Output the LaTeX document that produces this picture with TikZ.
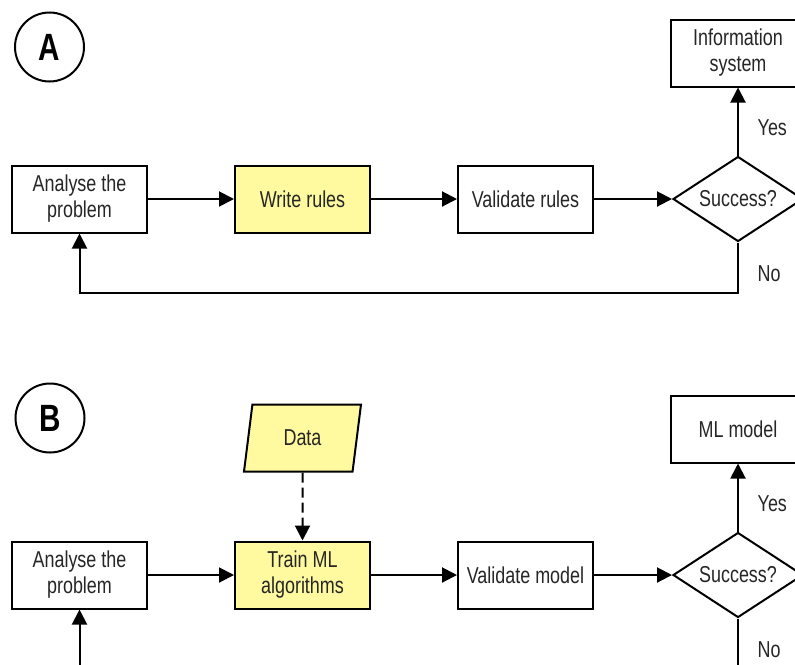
\documentclass[tikz,border=0pt]{standalone}
\usepackage{fontspec}
\newfontfamily\flowfont{Liberation Sans}[FakeStretch=0.78]
\usepackage{tikz}
\usetikzlibrary{shapes,arrows.meta,positioning}
\definecolor{hlyellow}{RGB}{255, 250, 160}
\tikzstyle{proc} = [rectangle, draw=black, line width=1pt, fill=white, text=black!85, text centered, align=center, font=\flowfont\fontsize{11.5}{13}\selectfont, minimum width=67.5pt, minimum height=33.5pt, inner sep=2pt]
\tikzstyle{hlproc} = [proc, fill=hlyellow]
\tikzstyle{decision} = [diamond, draw=black, line width=1pt, fill=white, text=black!85, aspect=1.53, inner sep=0pt, font=\flowfont\fontsize{11.5}{13}\selectfont, minimum width=65pt, minimum height=42.5pt]
\tikzstyle{io} = [trapezium, trapezium left angle=74, trapezium right angle=106, trapezium stretches body, draw=black, line width=1pt, fill=hlyellow, text=black!85, font=\flowfont\fontsize{11.5}{13}\selectfont, minimum width=58.5pt, minimum height=33.5pt]
\tikzstyle{tag} = [circle, draw=black, line width=1pt, text=black, font=\flowfont\bfseries\fontsize{19}{22}\selectfont, minimum size=34.5pt, inner sep=0pt]
\tikzstyle{textonly} = [draw=none, fill=none, text=black!85, font=\flowfont\fontsize{11.5}{13}\selectfont]
\tikzstyle{tedge} = [draw, line width=1pt, -{Triangle[length=7.5pt,width=7.5pt]}]
\tikzstyle{dedge} = [tedge, dash pattern=on 5pt off 2.5pt]

\begin{document}
\begin{tikzpicture}[auto]

\clip (0,0) rectangle (397.5pt,-332pt);

% rules approach =============================
\node[tag] (tagA) at (24.75pt,-23.5pt) {A};
\node[proc] (anaA) at (39.75pt,-99.5pt) {Analyse the\\problem};
\node[hlproc, right=43pt of anaA] (writeA) {Write rules};
\node[proc, right=43pt of writeA] (valA) {Validate rules};
\node[decision, right=39pt of valA] (succA) {Success?};
\node[proc, above=34pt of succA] (infoA) {Information\\system};

% edges rules
\path[tedge] (anaA) edge (writeA);
\path[tedge] (writeA) edge (valA);
\path[tedge] (valA) edge (succA);
\path[tedge] (succA) edge node[textonly, pos=0.41, right=6pt] {Yes} (infoA);
\draw[tedge] (succA.south) -- ++(0,-25pt) node[textonly, pos=0.62, right=6pt] {No} -| (anaA.south);

% machine learning approach =============================
\node[tag] (tagB) at (25pt,-209pt) {B};
\node[proc] (anaB) at (39.75pt,-287.5pt) {Analyse the\\problem};
\node[hlproc, right=43pt of anaB] (trainB) {Train ML\\algorithms};
\node[io, above=34pt of trainB] (dataB) {Data};
\node[proc, right=43pt of trainB] (valB) {Validate model};
\node[decision, right=39pt of valB] (succB) {Success?};
\node[proc, above=34pt of succB] (mlB) {ML model};

% edges machine learning
\path[dedge] (dataB) edge (trainB);
\path[tedge] (anaB) edge (trainB);
\path[tedge] (trainB) edge (valB);
\path[tedge] (valB) edge (succB);
\path[tedge] (succB) edge node[textonly, pos=0.41, right=6pt] {Yes} (mlB);
\draw[tedge] (succB.south) -- ++(0,-25pt) node[textonly, pos=0.62, right=6pt] {No} -| (anaB.south);

\end{tikzpicture}
\end{document}
